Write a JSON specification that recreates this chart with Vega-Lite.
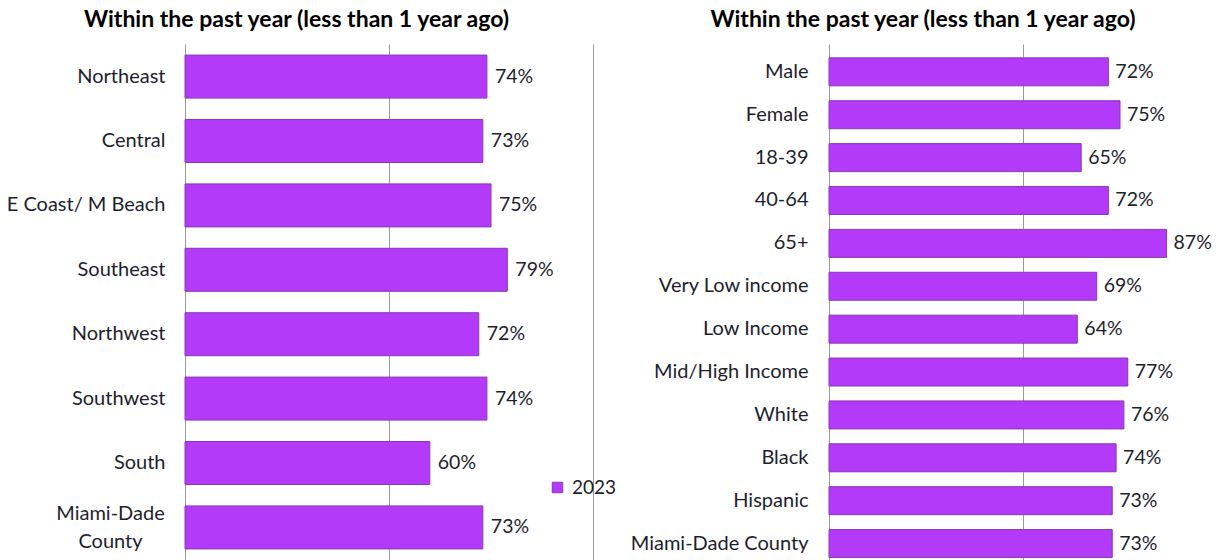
{
  "$schema": "https://vega.github.io/schema/vega-lite/v6.json",
  "padding": {"top": 9, "left": 0, "right": 0, "bottom": 0},
  "background": "white",
  "bounds": "flush",
  "spacing": 236,
  "config": {
    "view": {"stroke": null},
    "font": "Lato",
    "title": {"font": "Lato", "fontSize": 23, "fontWeight": "bold", "color": "#000000", "anchor": "middle", "frame": "bounds", "offset": 12},
    "axisX": {"labels": false, "ticks": false, "domain": false, "grid": true, "gridColor": "#9a9a9a", "gridWidth": 1, "title": null},
    "axisY": {"ticks": false, "tickSize": 0, "domain": false, "grid": false, "title": null, "labelFont": "Lato", "labelFontSize": 20, "labelColor": "#1e1e2c", "labelLimit": 0}
  },
  "datasets": {
    "region": [
      {"group": "Northeast", "pct": 0.74, "year": "2023"},
      {"group": "Central", "pct": 0.73, "year": "2023"},
      {"group": "E Coast/ M Beach", "pct": 0.75, "year": "2023"},
      {"group": "Southeast", "pct": 0.79, "year": "2023"},
      {"group": "Northwest", "pct": 0.72, "year": "2023"},
      {"group": "Southwest", "pct": 0.74, "year": "2023"},
      {"group": "South", "pct": 0.60, "year": "2023"},
      {"group": "Miami-Dade County", "pct": 0.73, "year": "2023"}
    ],
    "demo": [
      {"group": "Male", "pct": 0.72, "year": "2023"},
      {"group": "Female", "pct": 0.75, "year": "2023"},
      {"group": "18-39", "pct": 0.65, "year": "2023"},
      {"group": "40-64", "pct": 0.72, "year": "2023"},
      {"group": "65+", "pct": 0.87, "year": "2023"},
      {"group": "Very Low income", "pct": 0.69, "year": "2023"},
      {"group": "Low Income", "pct": 0.64, "year": "2023"},
      {"group": "Mid/High Income", "pct": 0.77, "year": "2023"},
      {"group": "White", "pct": 0.76, "year": "2023"},
      {"group": "Black", "pct": 0.74, "year": "2023"},
      {"group": "Hispanic", "pct": 0.73, "year": "2023"},
      {"group": "Miami-Dade County", "pct": 0.73, "year": "2023"}
    ]
  },
  "hconcat": [
    {
      "title": "Within the past year (less than 1 year ago)",
      "width": 408,
      "height": 516,
      "data": {"name": "region"},
      "encoding": {
        "y": {
          "field": "group", "type": "nominal", "sort": null,
          "scale": {"paddingInner": 0.332, "paddingOuter": 0.172, "align": 0.5},
          "axis": {"minExtent": 185, "maxExtent": 185, "labelLineHeight": 28,
                   "labelPadding": {"condition": {"test": "datum.value == 'Miami-Dade County'", "value": 75}, "value": 20},
                   "labelAlign": {"condition": {"test": "datum.value == 'Miami-Dade County'", "value": "center"}, "value": "right"},
                   "labelOffset": {"condition": {"test": "datum.value == 'Miami-Dade County'", "value": -13}, "value": 0},
                   "labelExpr": "datum.value == 'Miami-Dade County' ? ['Miami-Dade', 'County'] : datum.value"}
        },
        "x": {"field": "pct", "type": "quantitative", "scale": {"domain": [0, 1]}, "axis": {"values": [0, 0.5, 1]}}
      },
      "layer": [
        {
          "mark": {"type": "bar", "stroke": "#8a3ab0", "strokeWidth": 1},
          "encoding": {
            "color": {
              "field": "year", "type": "nominal",
              "scale": {"range": ["#B23AF8"]},
              "legend": {"orient": "none", "legendX": 363, "legendY": 434, "title": null, "symbolType": "square", "symbolSize": 110,
                         "symbolStrokeColor": "#8a3ab0", "symbolStrokeWidth": 1, "labelFontSize": 19, "labelColor": "#1e1e2c", "labelFont": "Lato", "labelOffset": 5}
            }
          }
        },
        {
          "mark": {"type": "text", "align": "left", "baseline": "middle", "dx": 8, "fontSize": 19.5, "font": "Lato", "color": "#1e1e2c"},
          "encoding": {"text": {"field": "pct", "type": "quantitative", "format": ".0%"}}
        }
      ]
    },
    {
      "title": "Within the past year (less than 1 year ago)",
      "width": 388,
      "height": 516,
      "data": {"name": "demo"},
      "encoding": {
        "y": {
          "field": "group", "type": "nominal", "sort": null,
          "scale": {"paddingInner": 0.347, "paddingOuter": 0.19, "align": 0.85},
          "axis": {"minExtent": 200, "maxExtent": 200, "labelPadding": 21}
        },
        "x": {"field": "pct", "type": "quantitative", "scale": {"domain": [0, 1]}, "axis": {"values": [0, 0.5, 1]}}
      },
      "layer": [
        {
          "mark": {"type": "bar", "stroke": "#8a3ab0", "strokeWidth": 1, "color": "#B23AF8"},
          "encoding": {}
        },
        {
          "mark": {"type": "text", "align": "left", "baseline": "middle", "dx": 7, "fontSize": 19.5, "font": "Lato", "color": "#1e1e2c"},
          "encoding": {"text": {"field": "pct", "type": "quantitative", "format": ".0%"}}
        }
      ]
    }
  ]
}
